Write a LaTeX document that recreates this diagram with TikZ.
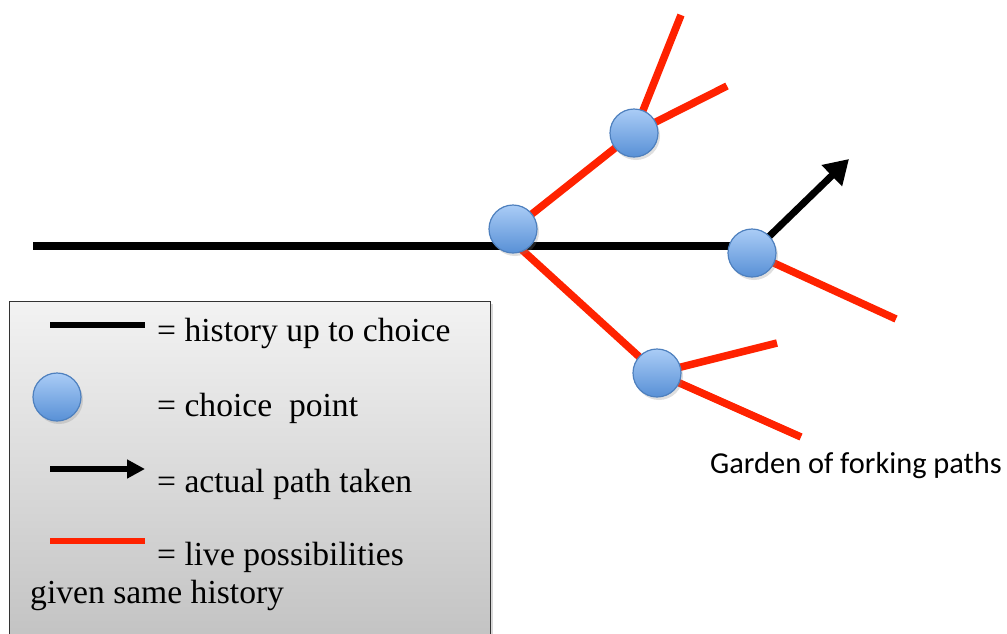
\documentclass[tikz,border=0pt]{standalone}
\usepackage{fontspec}
\setmainfont{Liberation Serif}
\newfontfamily\labelfont{Carlito}
\usetikzlibrary{arrows.meta,shadows}
\definecolor{myred}{RGB}{255,34,0}
\definecolor{balltop}{RGB}{170,204,246}
\definecolor{ballbot}{RGB}{88,144,214}
\definecolor{ballrim}{RGB}{78,128,190}
\tikzset{
  hist/.style={line width=7.5pt, black},
  live/.style={line width=7.5pt, myred},
  taken/.style={line width=7pt, black, -{Triangle[length=24pt,width=28pt]}},
  ball/.style={circle, minimum size=48pt, inner sep=0pt, draw=ballrim, line width=1.2pt,
    top color=balltop, bottom color=ballbot,
    drop shadow={shadow xshift=2pt, shadow yshift=-3pt, opacity=0.25}},
  legtext/.style={anchor=base west, font=\fontsize{33.6}{38}\selectfont, inner sep=0pt},
}
\begin{document}
\begin{tikzpicture}[x=1pt,y=-1pt]
\useasboundingbox (0,0) rectangle (1007,633);
% choice point positions
\coordinate (p1) at (513,229);
\coordinate (p2) at (634,133);
\coordinate (p3) at (752,253);
\coordinate (p4) at (657,373);
\coordinate (start) at (33,246);
\coordinate (hend) at (752,246);
\coordinate (p1low) at (520,248);
\coordinate (e2a) at (681,15);
\coordinate (e2b) at (727,86);
\coordinate (e3) at (896,319);
\coordinate (e3t) at (849,159);
\coordinate (e4a) at (777,343);
\coordinate (e4b) at (801,437);
% history
\draw[hist] (start) -- (hend);
% live possibilities
\draw[live] (p1) -- (p2);
\draw[live] (p2) -- (e2a);
\draw[live] (p2) -- (e2b);
\draw[live] (p1low) -- (p4);
\draw[live] (p4) -- (e4a);
\draw[live] (p4) -- (e4b);
\draw[live] (p3) -- (e3);
% actual path
\draw[taken] (p3) -- (e3t);
% choice points
\node[ball] (c1) at (p1) {};
\node[ball] (c2) at (p2) {};
\node[ball] (c3) at (p3) {};
\node[ball] (c4) at (p4) {};
\node[anchor=base west, inner sep=0pt, font=\labelfont\fontsize{30.4}{34}\selectfont] (title) at (710,473) {Garden of forking paths};
% legend
\node[draw=black!80, line width=1.2pt, top color=black!5, bottom color=black!24, minimum width=481pt, minimum height=345pt, anchor=north west, inner sep=0pt,
  drop shadow={shadow xshift=2pt, shadow yshift=-2pt, opacity=0.3}] (legend) at (9,301) {};
\coordinate (l1a) at (50,325);
\coordinate (l1b) at (145,325);
\draw[hist, line width=6pt] (l1a) -- (l1b);
\node[legtext] (t1) at (157,341) {= history up to choice};
\node[ball] (lball) at (57,397) {};
\node[legtext] (t2) at (157,416) {= choice\ \ point};
\coordinate (l3a) at (50,469);
\coordinate (l3b) at (145,469);
\draw[line width=6pt, black, -{Triangle[length=18pt,width=18pt]}] (l3a) -- (l3b);
\node[legtext] (t3) at (157,492) {= actual path taken};
\coordinate (l4a) at (50,541);
\coordinate (l4b) at (145,541);
\draw[live, line width=6pt] (l4a) -- (l4b);
\node[legtext] (t4) at (157,565) {= live possibilities};
\node[legtext] (t5) at (30,603) {given same history};
\end{tikzpicture}
\end{document}
